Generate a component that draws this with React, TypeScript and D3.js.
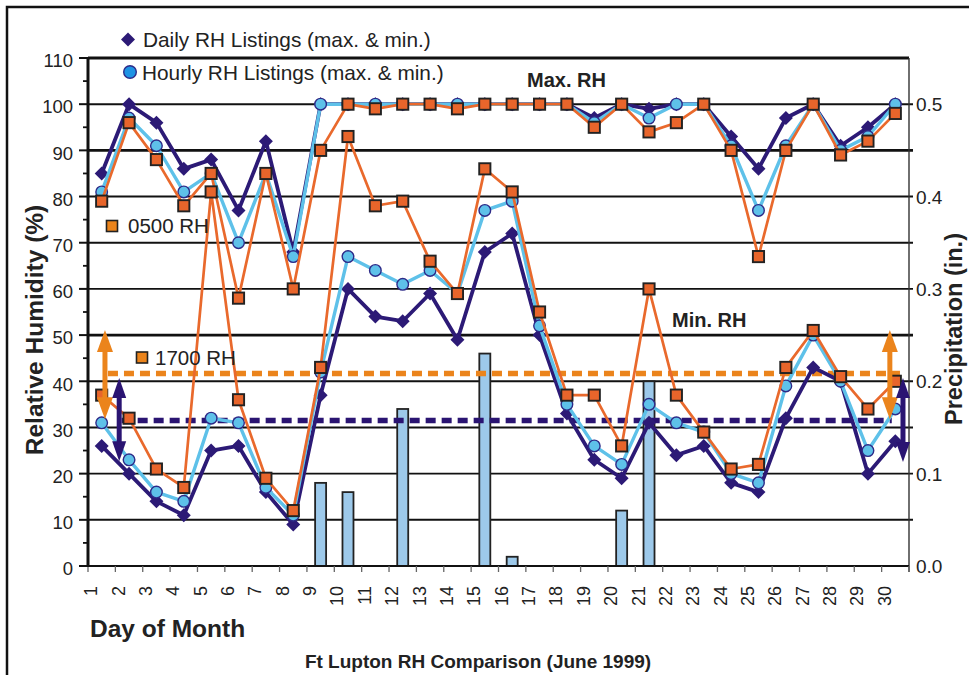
import React, { useRef, useEffect } from 'react';
import * as d3 from 'd3';

// ─── Data ─────────────────────────────────────────────────────────────────────
const days = [1, 2, 3, 4, 5, 6, 7, 8, 9, 10, 11, 12, 13, 14, 15, 16, 17, 18, 19, 20, 21, 22, 23, 24, 25, 26, 27, 28, 29, 30];

const dailyMax = [85, 100, 96, 86, 88, 77, 92, 68, 100, 100, 100, 100, 100, 100, 100, 100, 100, 100, 97, 100, 99, 100, 100, 93, 86, 97, 100, 91, 95, 100];
const dailyMin = [26, 20, 14, 11, 25, 26, 16, 9, 37, 60, 54, 53, 59, 49, 68, 72, 50, 33, 23, 19, 31, 24, 26, 18, 16, 32, 43, 40, 20, 27];
const hourlyMax = [81, 97, 91, 81, 85, 70, 85, 67, 100, 100, 100, 100, 100, 100, 100, 100, 100, 100, 96, 100, 97, 100, 100, 91, 77, 91, 100, 90, 93, 100];
const hourlyMin = [31, 23, 16, 14, 32, 31, 17, 11, 42, 67, 64, 61, 64, 59, 77, 79, 52, 35, 26, 22, 35, 31, 29, 20, 18, 39, 50, 40, 25, 34];
const rh0500 = [79, 96, 88, 78, 85, 58, 85, 60, 90, 100, 99, 100, 100, 99, 100, 100, 100, 100, 95, 100, 94, 96, 100, 90, 67, 90, 100, 89, 92, 98];
const rh1700 = [37, 32, 21, 17, 81, 36, 19, 12, 43, 93, 78, 79, 66, 59, 86, 81, 55, 37, 37, 26, 60, 37, 29, 21, 22, 43, 51, 41, 34, 40];
const precip = [0, 0, 0, 0, 0, 0, 0, 0, 0.09, 0.08, 0, 0.17, 0, 0, 0.23, 0.01, 0, 0, 0, 0.06, 0.2, 0, 0, 0, 0, 0, 0, 0, 0, 0];

const rhTicks = [0, 10, 20, 30, 40, 50, 60, 70, 80, 90, 100, 110];
const precipTicks = [0, 0.1, 0.2, 0.3, 0.4, 0.5];

// mean reference lines (RH) and the day span they cover
const refValues = [41.7, 31.5];
const refStart = [1.23, 1.73];
const refEnd = [30.17, 29.87];
const refKeys = ['afternoon', 'daily'];

// double arrows: position (fractional day), low / high RH
const arrowDays = [1.12, 1.64, 29.8, 30.28];
const arrowLow = [31.8, 22.7, 31.8, 22.5];
const arrowHigh = [51.1, 40.7, 51.1, 40.7];
const arrowKeys = ['afternoon', 'daily', 'afternoon', 'daily'];

const FONT = "'Liberation Sans', Arial, Helvetica, sans-serif";
const NAVY = '#2c1a76';
const SKY = '#5ec1e9';
const RUST = '#e9692c';
const AMBER = '#eb841c';
const keyColour: Record<string, string> = { afternoon: AMBER, daily: '#2a1472' };

const W = 969;
const H = 675;

const App: React.FC = () => {
    const ref = useRef<SVGSVGElement | null>(null);

    useEffect(() => {
        if (!ref.current) return;
        const svg = d3.select(ref.current);
        svg.selectAll('*').remove();

        // ─── geometry & scales ─────────────────────────────────────────────────
        const left = 88, right = 909, top = 58, bottom = 566;
        const x = d3.scaleBand<number>().domain(days).range([left, right]);
        const xPos = d3.scaleLinear().domain([0.5, 30.5]).range([left, right]);
        const y = d3.scaleLinear().domain([0, 110]).range([bottom, top]);
        const yR = d3.scaleLinear().domain([0, 0.55]).range([bottom, top]);
        const cx = (d: number) => (x(d) as number) + x.bandwidth() / 2;

        svg.append('rect').attr('width', W).attr('height', H).attr('fill', '#fff');

        // outer frame
        svg.append('path')
            .attr('d', `M7,${H} V7 H${W}`)
            .attr('fill', 'none').attr('stroke', '#111').attr('stroke-width', 2.5);

        // ─── bars (precipitation) ────────────────────────────────────────────
        const barW = 11;
        svg.append('g').selectAll('rect')
            .data(days.filter((_, i) => precip[i] > 0))
            .enter().append('rect')
            .attr('x', d => cx(d) - barW / 2)
            .attr('y', d => yR(precip[d - 1]))
            .attr('width', barW)
            .attr('height', d => bottom - yR(precip[d - 1]))
            .attr('fill', '#9dc9ea')
            .attr('stroke', '#222')
            .attr('stroke-width', 1.8);

        // ─── gridlines ───────────────────────────────────────────────────────
        const grid = svg.insert('g', 'g');
        grid.selectAll('line')
            .data(rhTicks.filter(v => v > 0 && v < 110))
            .enter().append('line')
            .attr('x1', left).attr('x2', right + 4)
            .attr('y1', d => y(d)).attr('y2', d => y(d))
            .attr('stroke', '#111')
            .attr('stroke-width', d => (d === 90 || d === 50 ? 2.6 : 1.9));

        // ─── axes ───────────────────────────────────────────────────────────
        const axes = svg.append('g');
        // top border
        axes.append('line').attr('x1', left).attr('x2', right).attr('y1', top).attr('y2', top)
            .attr('stroke', '#111').attr('stroke-width', 3);
        // right axis
        axes.append('line').attr('x1', right).attr('x2', right).attr('y1', top).attr('y2', bottom + 6)
            .attr('stroke', '#333').attr('stroke-width', 1.4);
        // bottom axis
        axes.append('line').attr('x1', left).attr('x2', right).attr('y1', bottom).attr('y2', bottom)
            .attr('stroke', '#111').attr('stroke-width', 2.2);
        // x ticks at category edges
        axes.selectAll('line.xt')
            .data([...days.map(d => x(d) as number), right])
            .enter().append('line')
            .attr('class', 'xt')
            .attr('x1', d => d).attr('x2', d => d)
            .attr('y1', bottom).attr('y2', bottom + 6)
            .attr('stroke', '#666').attr('stroke-width', 1.3);
        // left axis
        axes.append('line').attr('x1', left).attr('x2', left).attr('y1', top - 1).attr('y2', bottom + 1)
            .attr('stroke', '#111').attr('stroke-width', 3);
        axes.selectAll('line.ymaj')
            .data(rhTicks)
            .enter().append('line')
            .attr('class', 'ymaj')
            .attr('x1', left - 9).attr('x2', left)
            .attr('y1', d => y(d)).attr('y2', d => y(d))
            .attr('stroke', '#111').attr('stroke-width', 2);
        axes.selectAll('line.ymin')
            .data(rhTicks.slice(0, -1).map(v => v + 5))
            .enter().append('line')
            .attr('class', 'ymin')
            .attr('x1', left - 5).attr('x2', left)
            .attr('y1', d => y(d)).attr('y2', d => y(d))
            .attr('stroke', '#111').attr('stroke-width', 1.8);

        // tick labels
        axes.selectAll('text.yl')
            .data(rhTicks)
            .enter().append('text')
            .attr('class', 'yl')
            .attr('x', 73).attr('y', d => y(d)).attr('dy', '0.5em')
            .attr('text-anchor', 'end')
            .style('font', `18.5px ${FONT}`).style('fill', '#222')
            .text(d => d);
        axes.selectAll('text.yr')
            .data(precipTicks)
            .enter().append('text')
            .attr('class', 'yr')
            .attr('x', 916).attr('y', d => yR(d)).attr('dy', '0.38em')
            .style('font', `19px ${FONT}`).style('fill', '#222')
            .text(d => d.toFixed(1));
        axes.selectAll('text.xl')
            .data(days)
            .enter().append('text')
            .attr('class', 'xl')
            .attr('transform', d => `translate(${cx(d) - 4.5},586) rotate(-90)`)
            .attr('text-anchor', 'end')
            .style('font', `18px ${FONT}`).style('fill', '#222')
            .text(d => d);

        // axis titles
        svg.append('text')
            .attr('transform', 'translate(43,330) rotate(-90)')
            .attr('text-anchor', 'middle')
            .style('font', `bold 24.5px ${FONT}`).style('fill', '#222')
            .text('Relative Humidity (%)');
        svg.append('text')
            .attr('transform', 'translate(962,329) rotate(-90)')
            .attr('text-anchor', 'middle')
            .style('font', `bold 23.5px ${FONT}`).style('fill', '#222')
            .text('Precipitation (in.)');
        svg.append('text')
            .attr('x', 90).attr('y', 637)
            .style('font', `bold 24.5px ${FONT}`).style('fill', '#222')
            .text('Day of Month');
        svg.append('text')
            .attr('x', 478).attr('y', 668)
            .attr('text-anchor', 'middle')
            .style('font', `bold 19px ${FONT}`).style('fill', '#222')
            .text('Ft Lupton RH Comparison (June 1999)');

        // ─── reference dashed lines ────────────────────────────────────────────
        svg.append('g').selectAll('line')
            .data(refValues)
            .enter().append('line')
            .attr('x1', (_, i) => xPos(refStart[i]))
            .attr('x2', (_, i) => xPos(refEnd[i]))
            .attr('y1', d => y(d)).attr('y2', d => y(d))
            .attr('stroke', (_, i) => keyColour[refKeys[i]])
            .attr('stroke-width', 5.5)
            .attr('stroke-dasharray', '10 6');

        // ─── series ────────────────────────────────────────────────────────────
        const line = d3.line<number>()
            .x((_, i) => cx(days[i]))
            .y(v => y(v));

        const diamond = 'M0,-7L7,0L0,7L-7,0Z';

        const drawSeries = (values: number[], kind: string, colour: string, width: number) => {
            const g = svg.append('g');
            g.append('path')
                .attr('d', line(values) as string)
                .attr('fill', 'none')
                .attr('stroke', colour)
                .attr('stroke-width', width)
                .attr('stroke-linejoin', 'round');
            const pts = g.selectAll('.m').data(values).enter();
            if (kind === 'diamond') {
                pts.append('path')
                    .attr('d', diamond)
                    .attr('transform', (v, i) => `translate(${cx(days[i])},${y(v)})`)
                    .attr('fill', NAVY);
            } else if (kind === 'circle') {
                pts.append('circle')
                    .attr('cx', (_, i) => cx(days[i]))
                    .attr('cy', v => y(v))
                    .attr('r', 5.8)
                    .attr('fill', SKY)
                    .attr('stroke', '#2d2a88')
                    .attr('stroke-width', 1.4);
            } else {
                pts.append('rect')
                    .attr('x', (_, i) => cx(days[i]) - 5.6)
                    .attr('y', v => y(v) - 5.6)
                    .attr('width', 11.2).attr('height', 11.2)
                    .attr('fill', '#e8652b')
                    .attr('stroke', '#222')
                    .attr('stroke-width', 1.9);
            }
        };

        drawSeries(dailyMax, 'diamond', NAVY, 3.8);
        drawSeries(dailyMin, 'diamond', NAVY, 3.8);
        drawSeries(hourlyMax, 'circle', SKY, 3.4);
        drawSeries(hourlyMin, 'circle', SKY, 3.4);
        drawSeries(rh0500, 'square', RUST, 2.7);
        drawSeries(rh1700, 'square', RUST, 2.7);

        // ─── double arrows ─────────────────────────────────────────────────────
        const arrows = svg.append('g');
        arrowDays.forEach((d, i) => {
            const ax = xPos(d);
            const yTop = y(arrowHigh[i]);
            const yBot = y(arrowLow[i]);
            const colour = keyColour[arrowKeys[i]];
            const hl = arrowKeys[i] === 'afternoon' ? 22 : 20;
            const hw = arrowKeys[i] === 'afternoon' ? 8 : 7;
            arrows.append('line')
                .attr('x1', ax).attr('x2', ax)
                .attr('y1', yTop + hl - 2).attr('y2', yBot - hl + 2)
                .attr('stroke', colour).attr('stroke-width', 5);
            arrows.append('path')
                .attr('d', `M${ax},${yTop} L${ax + hw},${yTop + hl} L${ax - hw},${yTop + hl} Z`)
                .attr('fill', colour);
            arrows.append('path')
                .attr('d', `M${ax},${yBot} L${ax + hw},${yBot - hl} L${ax - hw},${yBot - hl} Z`)
                .attr('fill', colour);
        });

        // ─── legend & annotations ──────────────────────────────────────────────
        const lg = svg.append('g').style('font', `20.8px ${FONT}`).style('fill', '#222');
        lg.append('path').attr('d', diamond).attr('transform', 'translate(128,39.5)').attr('fill', NAVY);
        lg.append('text').attr('x', 143).attr('y', 46.5).text('Daily RH Listings (max. & min.)');
        lg.append('circle').attr('cx', 130).attr('cy', 72).attr('r', 6.3)
            .attr('fill', '#1e93e4').attr('stroke', '#2d2a88').attr('stroke-width', 1.4);
        lg.append('text').attr('x', 142).attr('y', 80).text('Hourly RH Listings (max. & min.)');
        lg.append('rect').attr('x', 106.5).attr('y', 220.5).attr('width', 11).attr('height', 11)
            .attr('fill', AMBER).attr('stroke', '#222').attr('stroke-width', 1.6);
        lg.append('text').attr('x', 128).attr('y', 233).style('font-size', '20.5px').text('0500 RH');
        lg.append('rect').attr('x', 136.5).attr('y', 352).attr('width', 11).attr('height', 11)
            .attr('fill', AMBER).attr('stroke', '#222').attr('stroke-width', 1.6);
        lg.append('text').attr('x', 155).attr('y', 364.5).style('font-size', '20.5px').text('1700 RH');

        svg.append('text').attr('x', 527).attr('y', 87)
            .style('font', `bold 20px ${FONT}`).style('fill', '#222').text('Max. RH');
        svg.append('text').attr('x', 672).attr('y', 327)
            .style('font', `bold 20px ${FONT}`).style('fill', '#222').text('Min. RH');
    }, []);

    return (
        <svg
            ref={ref}
            width={W}
            height={H}
            style={{ position: 'absolute', left: 0, top: 0, display: 'block' }}
        />
    );
};

export default App;
